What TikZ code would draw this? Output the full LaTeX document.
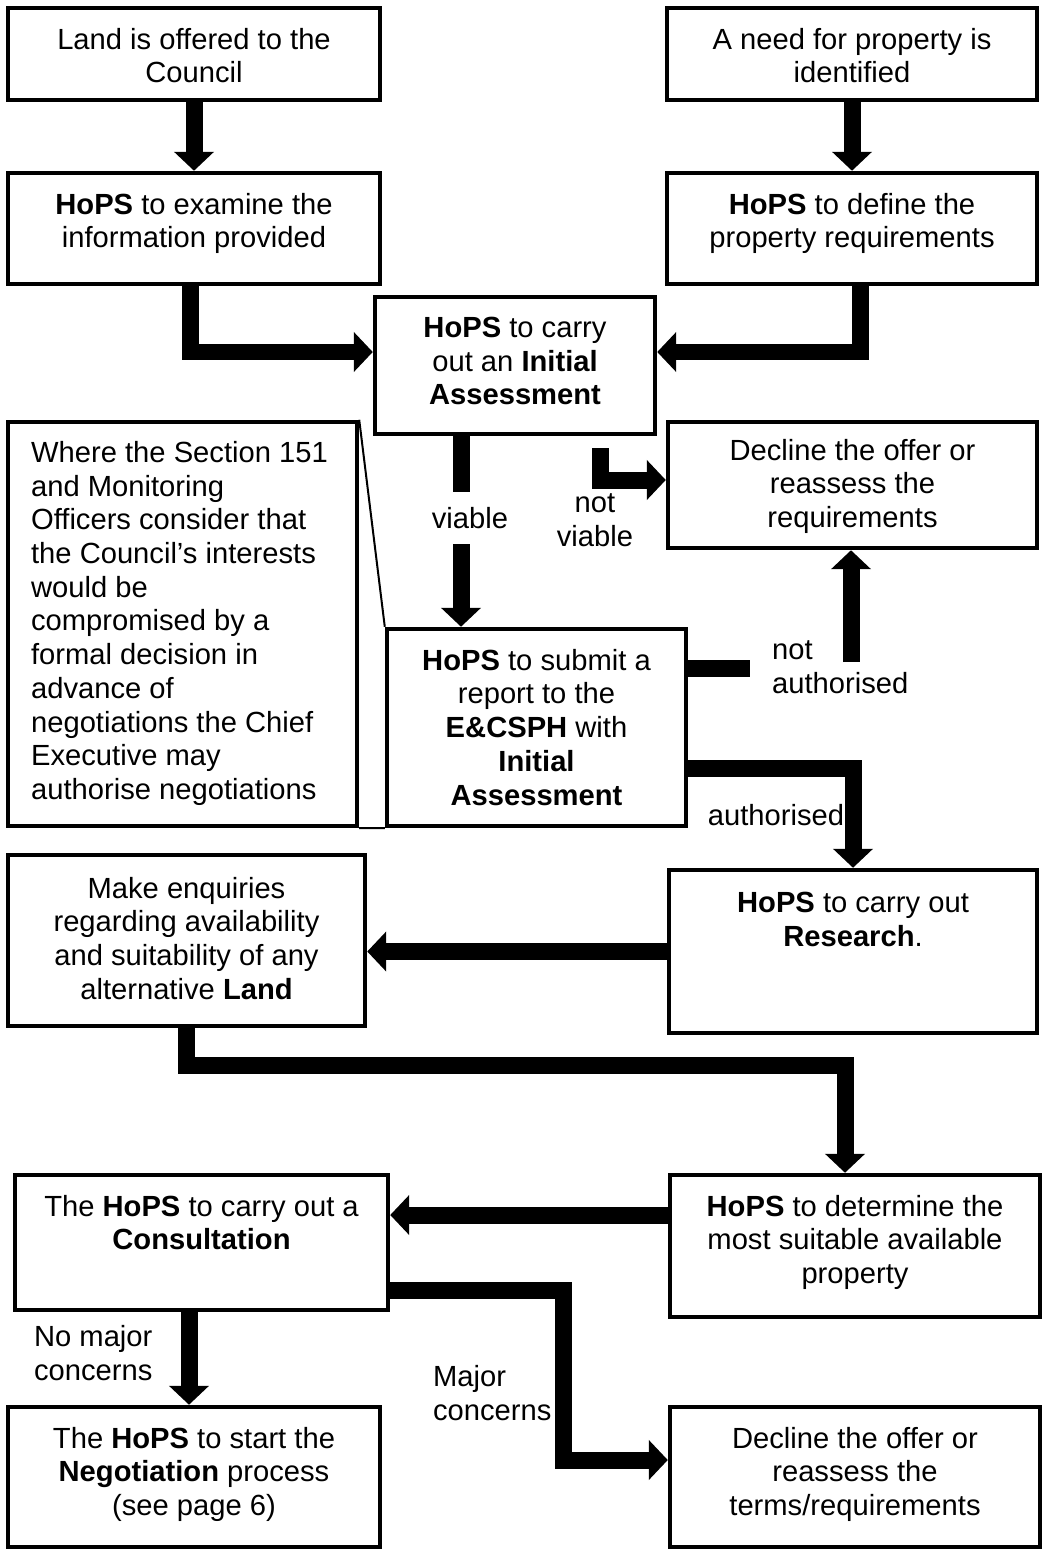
\documentclass[tikz,border=0pt]{standalone}
\usepackage{fontspec}
\setmainfont{Liberation Sans}
\usetikzlibrary{arrows.meta}

\begin{document}
\begin{tikzpicture}[x=0.02cm, y=-0.02cm,
		box/.style={draw, line width=0.09cm, inner sep=0pt},
		txt/.style={inner sep=0pt, align=center, font=\fontsize{16.6}{19.2}\selectfont},
		lbl/.style={txt, inner sep=1pt},
		bar/.style={line width=0.34cm},
		flow/.style={bar, -{Triangle[width=0.78cm,length=0.38cm]}},
		callout/.style={line width=0.04cm}]
		\useasboundingbox (0,0) rectangle (1045,1551);

		\node[box, minimum width=7.44cm, minimum height=1.84cm] (land) at (194,54) {};
		\node[box, minimum width=7.40cm, minimum height=1.84cm] (need) at (852,54) {};
		\node[box, minimum width=7.44cm, minimum height=2.22cm] (examine) at (194,228.5) {};
		\node[box, minimum width=7.40cm, minimum height=2.22cm] (define) at (852,228.5) {};
		\node[box, minimum width=5.60cm, minimum height=2.74cm] (initial) at (515,365.5) {};
		\node[box, minimum width=7.38cm, minimum height=2.52cm] (decline1) at (852.5,485) {};
		\node[box, minimum width=6.98cm, minimum height=8.08cm] (note) at (182.5,624) {};
		\node[box, minimum width=5.98cm, minimum height=3.94cm] (report) at (536.5,727.5) {};
		\node[box, minimum width=7.36cm, minimum height=3.26cm] (research) at (853,951.5) {};
		\node[box, minimum width=7.14cm, minimum height=3.42cm] (enquiries) at (186.5,940.5) {};
		\node[box, minimum width=7.46cm, minimum height=2.70cm] (consult) at (201.5,1242.5) {};
		\node[box, minimum width=7.40cm, minimum height=2.84cm] (determine) at (855,1246) {};
		\node[box, minimum width=7.44cm, minimum height=2.80cm] (negotiate) at (194,1477) {};
		\node[box, minimum width=7.40cm, minimum height=2.80cm] (decline2) at (855,1477) {};

		\node[txt, anchor=north] (land-t) at ([yshift=-0.44cm]land.north) {Land is offered to the\\Council};
		\node[txt, anchor=north] (need-t) at ([yshift=-0.44cm]need.north) {A need for property is\\identified};
		\node[txt, anchor=north] (examine-t) at ([yshift=-0.44cm]examine.north) {\textbf{HoPS} to examine the\\information provided};
		\node[txt, anchor=north] (define-t) at ([yshift=-0.44cm]define.north) {\textbf{HoPS} to define the\\property requirements};
		\node[txt, anchor=north] (initial-t) at ([yshift=-0.44cm]initial.north) {\textbf{HoPS} to carry\\out an \textbf{Initial}\\\textbf{Assessment}};
		\node[txt, anchor=north] (decline1-t) at ([yshift=-0.38cm]decline1.north) {Decline the offer or\\reassess the\\requirements};
		\node[txt, anchor=north west, align=left] (note-t) at ([xshift=0.5cm, yshift=-0.42cm]note.north west) {Where the Section 151\\and Monitoring\\Officers consider that\\the Council’s interests\\would be\\compromised by a\\formal decision in\\advance of\\negotiations the Chief\\Executive may\\authorise negotiations};
		\node[txt, anchor=north] (report-t) at ([yshift=-0.44cm]report.north) {\textbf{HoPS} to submit a\\report to the\\\textbf{E\&CSPH} with\\\textbf{Initial}\\\textbf{Assessment}};
		\node[txt, anchor=north] (research-t) at ([yshift=-0.48cm]research.north) {\textbf{HoPS} to carry out\\\textbf{Research}.};
		\node[txt, anchor=north] (enquiries-t) at ([yshift=-0.48cm]enquiries.north) {Make enquiries\\regarding availability\\and suitability of any\\alternative \textbf{Land}};
		\node[txt, anchor=north] (consult-t) at ([yshift=-0.44cm]consult.north) {The \textbf{HoPS} to carry out a\\\textbf{Consultation}};
		\node[txt, anchor=north] (determine-t) at ([yshift=-0.44cm]determine.north) {\textbf{HoPS} to determine the\\most suitable available\\property};
		\node[txt, anchor=north] (negotiate-t) at ([yshift=-0.44cm]negotiate.north) {The \textbf{HoPS} to start the\\\textbf{Negotiation} process\\(see page 6)};
		\node[txt, anchor=north] (decline2-t) at ([yshift=-0.44cm]decline2.north) {Decline the offer or\\reassess the\\terms/requirements};

		\node[lbl, inner ysep=0.3cm] (viable) at (470,518) {viable};
		\node[lbl] (notviable) at (595,520) {not\\viable};
		\node[lbl, anchor=west, align=left] (notauth) at (770,667) {not\\authorised};
		\node[lbl] (authlbl) at (776,815) {authorised};
		\node[lbl, anchor=west, align=left] (majorlbl) at (431,1393) {Major\\concerns};
		\node[lbl, anchor=west, align=left] (nomajorlbl) at (32,1353) {No major\\concerns};

		\coordinate (c1) at (190,352);
		\coordinate (c2) at (860,352);
		\coordinate (viab) at (461,0);
		\coordinate (nv) at (600,448);
		\coordinate (nvc) at (0,480);
		\coordinate (naend) at (750,668);
		\coordinate (nastart) at (851,662);
		\coordinate (auth) at (0,768);
		\coordinate (turn) at (0,1065);
		\coordinate (r1) at (0,1215);
		\coordinate (nm) at (189,0);
		\coordinate (mc) at (563,1290);
		\coordinate (mc2) at (563,1460);

		\draw[callout] (note.north east) -- (report.north west);
		\draw[callout] (note.south east) -- (report.south west);

		\draw[flow] (land.south) -- (examine.north);
		\draw[flow] (need.south) -- (define.north);
		\draw[flow] (examine.south -| c1) -- (c1) -- (initial.west |- c1);
		\draw[flow] (define.south -| c2) -- (c2) -- (initial.east |- c2);
		\draw[bar] (initial.south -| viab) -- (viable.north -| viab);
		\draw[flow] (viable.south -| viab) -- (report.north -| viab);
		\draw[flow] (nv) |- (decline1.west |- nvc);
		\draw[bar] (report.east |- naend) -- (naend);
		\draw[flow] (nastart) -- (decline1.south -| nastart);
		\draw[flow] (report.east |- auth) -| (research.north);
		\draw[flow] (research.west) -- (research.west -| enquiries.east);
		\draw[flow] (enquiries.south) -- (enquiries.south |- turn) -| ([xshift=-0.2cm]determine.north);
		\draw[flow] (determine.west |- r1) -- (consult.east |- r1);
		\draw[flow] (consult.south -| nm) -- (negotiate.north -| nm);
		\draw[flow] (consult.east |- mc) -- (mc) -- (mc2) -- (decline2.west |- mc2);
\end{tikzpicture}
\end{document}
